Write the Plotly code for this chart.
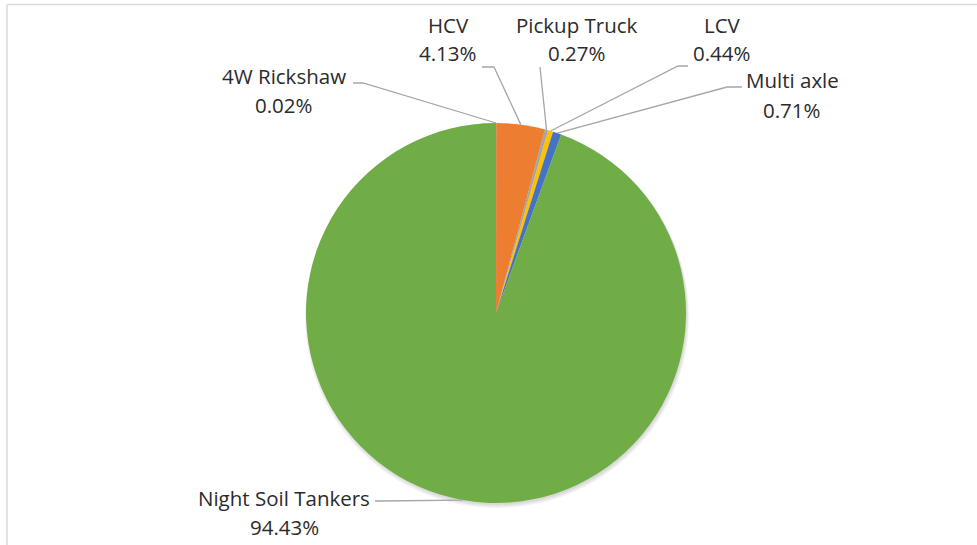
import math
import plotly.graph_objects as go

# ---- data ----
categories = ["4W Rickshaw", "HCV", "Pickup Truck", "LCV", "Multi axle", "Night Soil Tankers"]
shares = [0.02, 4.13, 0.27, 0.44, 0.71, 94.43]
colors = ["#5B9BD5", "#ED7D31", "#A5A5A5", "#FFC000", "#4472C4", "#70AD47"]

# ---- layout (pixel geometry) ----
W, H = 977, 545
CX, CY, R = 496, 313, 190
# label centres (name line y, percent line y)
label_x = [284, 448, 577, 722, 792, 284]
label_y1 = [76, 25, 25, 25, 80, 498]
label_y2 = [105, 53, 53, 53, 110, 527]
# leader line start and elbow points (pixels)
lead_start = [(353, 83), (482, 67), (540, 67), (688, 66), (742, 87), (375, 501)]
lead_elbow = [(363, 83), (494, 67), (540, 67), (678, 66), (727, 87), (380, 501)]

FONT = "Open Sans"
FS = 20.5
TXT = "#2b2b2b"


def px(x):
    return x / W


def py(y):
    return 1 - y / H


fig = go.Figure()
fig.add_trace(go.Pie(
    labels=categories,
    values=shares,
    marker=dict(colors=colors, line=dict(width=0)),
    sort=False,
    direction="clockwise",
    rotation=0,
    textinfo="none",
    hoverinfo="label+percent",
    showlegend=False,
    domain=dict(x=[px(CX - R), px(CX + R)], y=[py(CY + R), py(CY - R)]),
))

total = sum(shares)
cum = 0.0
shapes = []
annotations = []
for i, (name, v) in enumerate(zip(categories, shares)):
    mid = (cum + v / 2) / total
    cum += v
    th = 2 * math.pi * mid
    tx = CX + R * math.sin(th)
    ty = CY - R * math.cos(th)
    (sx, sy), (ex, ey) = lead_start[i], lead_elbow[i]
    path = f"M {px(sx)} {py(sy)} L {px(ex)} {py(ey)} L {px(tx)} {py(ty)}"
    shapes.append(dict(type="path", xref="paper", yref="paper", path=path,
                       line=dict(color="#A6A6A6", width=1.3)))
    annotations.append(dict(x=px(label_x[i]), y=py(label_y1[i]), xref="paper", yref="paper",
                            text=name, showarrow=False, xanchor="center", yanchor="middle",
                            font=dict(family=FONT, size=FS, color=TXT)))
    annotations.append(dict(x=px(label_x[i]), y=py(label_y2[i]), xref="paper", yref="paper",
                            text=f"{v:.2f}%", showarrow=False, xanchor="center", yanchor="middle",
                            font=dict(family=FONT, size=FS, color=TXT)))

# chart frame (top and left edges visible in the crop)
shapes.append(dict(type="line", xref="paper", yref="paper", x0=px(7), x1=1, y0=py(4.5), y1=py(4.5),
                   line=dict(color="#D9D9D9", width=1.5)))
shapes.append(dict(type="line", xref="paper", yref="paper", x0=px(7), x1=px(7), y0=0, y1=py(4.5),
                   line=dict(color="#D9D9D9", width=1.5)))
# soft shadow under the pie
for k, op in enumerate([0.05, 0.05, 0.05]):
    off = 2 + k * 1.5
    shapes.append(dict(type="circle", xref="paper", yref="paper", layer="below",
                       x0=px(CX - R - k + 1), x1=px(CX + R + k + 1),
                       y0=py(CY + R + off), y1=py(CY - R + off - 2),
                       fillcolor=f"rgba(0,0,0,{op})", line=dict(width=0)))

fig.update_layout(
    width=W, height=H,
    margin=dict(l=0, r=0, t=0, b=0),
    paper_bgcolor="white",
    plot_bgcolor="white",
    shapes=shapes,
    annotations=annotations,
)

fig.write_html("out.html",
               config={"displayModeBar": False},
               post_script="document.body.style.margin='0';document.body.style.overflow='hidden';")
